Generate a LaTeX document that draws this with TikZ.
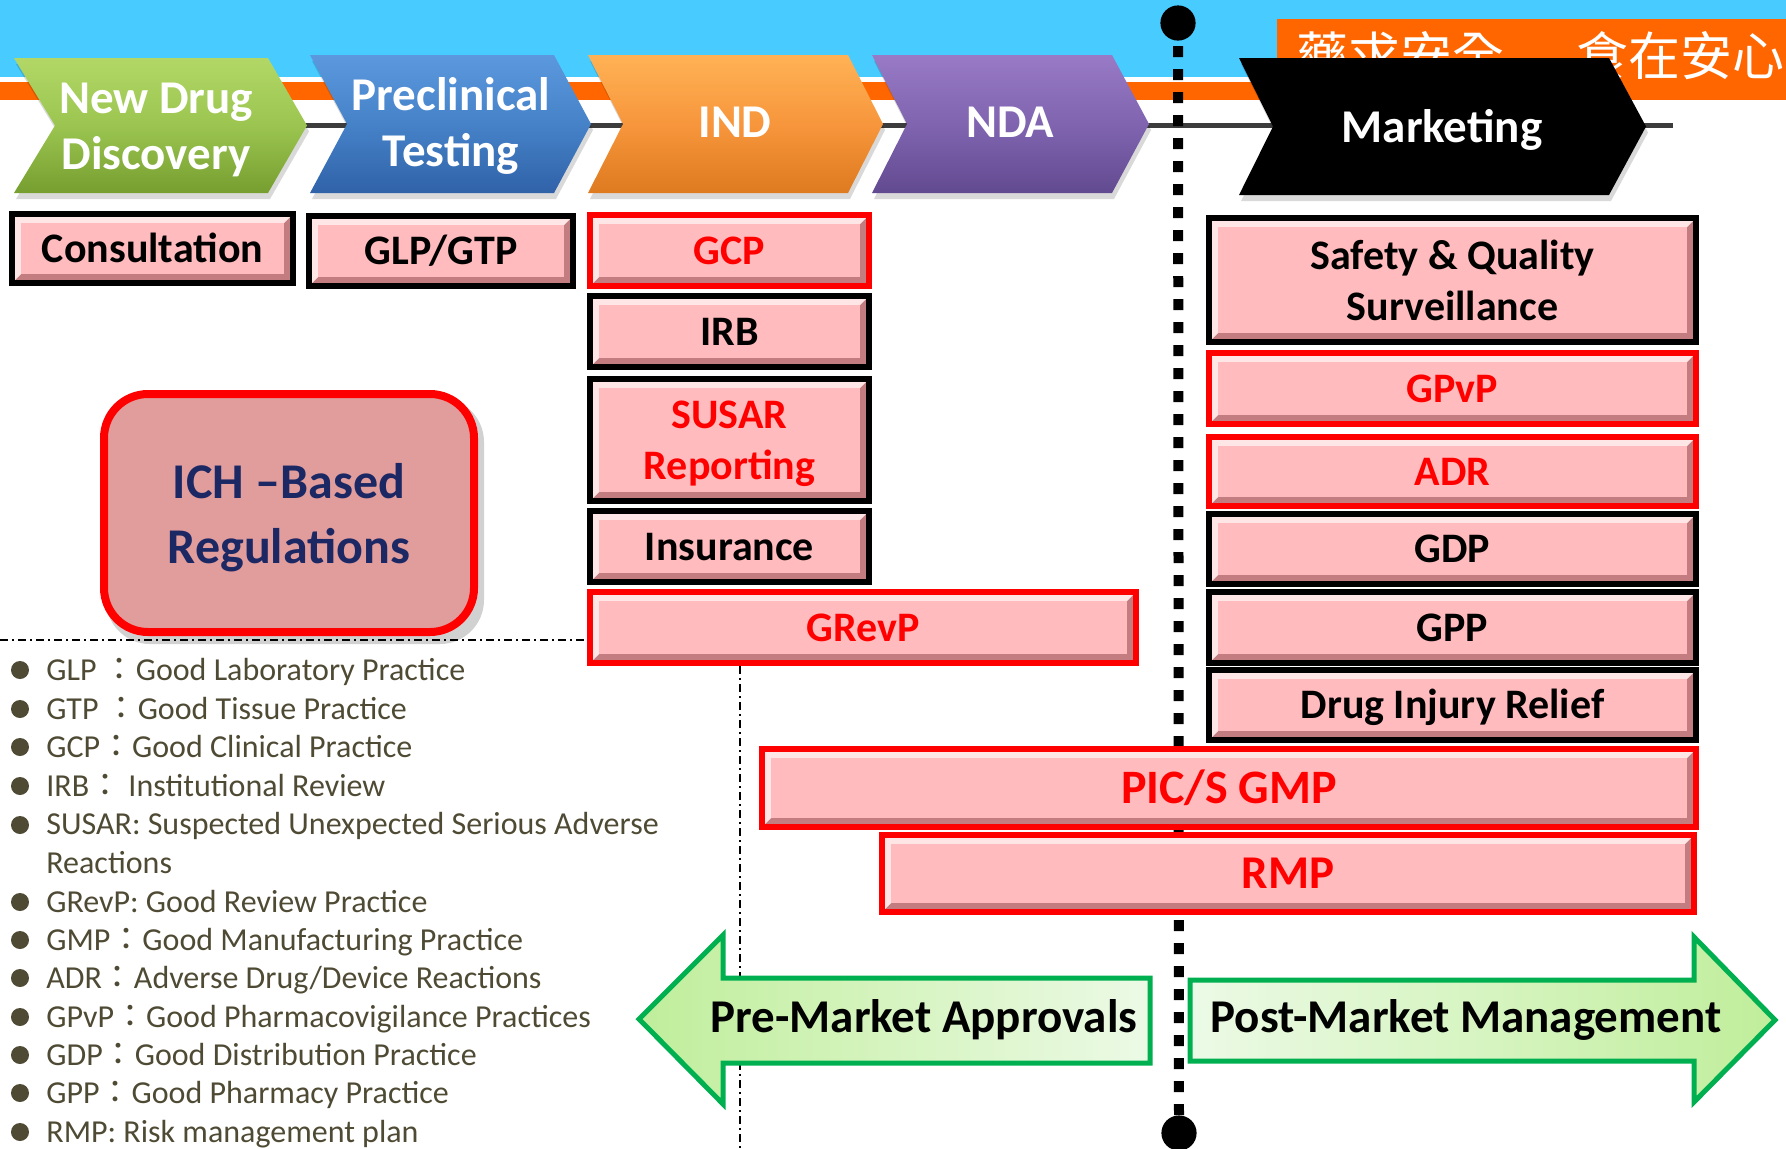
\documentclass[tikz,border=0pt]{standalone}
\usepackage{fontspec}
\setmainfont{Carlito}
\newfontfamily\cjk{Noto Sans CJK TC}
\usetikzlibrary{calc}
\definecolor{cyanbg}{RGB}{72,204,255}
\definecolor{orng}{RGB}{255,102,0}
\definecolor{tlgray}{RGB}{60,60,60}
\definecolor{boxpink}{RGB}{255,187,189}
\definecolor{bevlight}{RGB}{255,230,230}
\definecolor{bevdark}{RGB}{195,125,128}
\definecolor{ichfill}{RGB}{225,156,156}
\definecolor{navy}{RGB}{28,40,100}
\definecolor{legcol}{RGB}{78,74,52}
\definecolor{arrgreen}{RGB}{0,176,80}
\definecolor{arrlight}{RGB}{236,250,230}
\definecolor{arrdark}{RGB}{192,238,155}
\definecolor{gT}{RGB}{178,215,102}\definecolor{gM}{RGB}{155,197,80}\definecolor{gB}{RGB}{118,158,48}
\definecolor{bT}{RGB}{92,152,222}\definecolor{bM}{RGB}{70,130,200}\definecolor{bB}{RGB}{48,98,168}
\definecolor{oT}{RGB}{255,178,85}\definecolor{oM}{RGB}{247,150,60}\definecolor{oB}{RGB}{222,122,32}
\definecolor{pT}{RGB}{152,122,198}\definecolor{pM}{RGB}{128,100,176}\definecolor{pB}{RGB}{98,74,144}
\tikzset{
  chevtext/.style={text=white, font=\bfseries\fontsize{23.5pt}{28pt}\selectfont, align=center, inner sep=0pt},
  pbox/.style={draw=#1, line width=3pt, fill=boxpink, inner sep=0pt, align=center,
    font=\bfseries\fontsize{21pt}{25.5pt}\selectfont,
    path picture={
      \fill[bevdark] (path picture bounding box.south west) rectangle (path picture bounding box.north east);
      \fill[bevlight] (path picture bounding box.north west) -- (path picture bounding box.north east)
        -- ([shift={(-4.5pt,-4.5pt)}]path picture bounding box.north east)
        -- ([shift={(4.5pt,4.5pt)}]path picture bounding box.south west)
        -- (path picture bounding box.south west) -- cycle;
      \fill[boxpink] ([shift={(4.5pt,-4.5pt)}]path picture bounding box.north west) rectangle ([shift={(-4.5pt,4.5pt)}]path picture bounding box.south east);
    }},
  onel/.style={text height=13.5pt, text depth=0pt},
  twol/.style={text depth=0pt},
  redtxt/.style={text=red},
  dashdot/.style={line width=1pt, dash pattern=on 4pt off 2pt on 1pt off 2pt},
  bigdots/.style={line width=5pt, dash pattern=on 5.5pt off 6pt},
  arrowshape/.style={draw=arrgreen, line width=2.5pt, line join=miter},
  arrowtext/.style={font=\bfseries\fontsize{23.5pt}{28pt}\selectfont, inner sep=0pt, anchor=base},
  legtext/.style={text=legcol, font=\fontsize{16pt}{19.25pt}\selectfont, inner sep=0pt, anchor=base west, align=left},
  bullet/.style={circle, fill=legcol, inner sep=0pt, minimum size=9pt},
}
\newcommand\fc{{\cjk ：}}
\newcommand\chevron[7]{%
  \fill[black,opacity=0.15,shift={(2,6)}] (#1,#3) -- (#2,#3) -- ({#2+#5},{(#3+#4)/2}) -- (#2,#4) -- (#1,#4) -- ({#1+#6},{(#3+#4)/2}) -- cycle;
  \path[#7] (#1,#3) -- (#2,#3) -- ({#2+#5},{(#3+#4)/2}) -- (#2,#4) -- (#1,#4) -- ({#1+#6},{(#3+#4)/2}) -- cycle;}
\newcommand\pinkbox[8]{%
  \node[pbox=#6, #7, minimum width={(#4-#2-6)*0.5pt}, minimum height={(#5-#3-6)*0.5pt}] (#1) at ({(#2+#4)/2},{(#3+#5)/2}) {#8};}
\begin{document}
\begin{tikzpicture}[x=0.5pt,y=-0.5pt]
\useasboundingbox (0,0) rectangle (1786,1148);
% header background
\fill[cyanbg] (0,0) rectangle (1786,77);
\fill[orng] (0,82) rectangle (1786,100);
\fill[orng] (1277,19) rectangle (1786,100);
\node[anchor=west, text=white, inner sep=0pt, font=\cjk\fontsize{26pt}{26pt}\selectfont] (slogan) at (1296,56) {藥求安全\hspace{36pt}食在安心};
% timeline
\coordinate (tl0) at (55,125);
\coordinate (tl1) at (1673,125);
\draw[tlgray, line width=2.5pt] (tl0) -- (tl1);
% market divider
\coordinate (dtop) at (1178,23);
\coordinate (dbot) at (1179,1133);
\draw[bigdots] (dtop) -- (dbot);
\fill (dtop) circle[radius=8.8pt];
\fill (dbot) circle[radius=8.8pt];
% chevrons
\chevron{14}{268}{58}{193}{39}{41}{top color=gT, bottom color=gB, middle color=gM}
\chevron{310}{554}{55}{193}{37}{37}{top color=bT, bottom color=bB, middle color=bM}
\chevron{588}{848}{55}{193}{35}{35}{top color=oT, bottom color=oB, middle color=oM}
\chevron{872}{1112}{55}{193}{37}{35}{top color=pT, bottom color=pB, middle color=pM}
\chevron{1239}{1609}{58}{195}{37}{34}{fill=black}
\node[chevtext, twol] (ndd) at (156,126) {New Drug\\Discovery};
\node[chevtext, twol] (pct) at (451,122) {Preclinical\\Testing};
\node[chevtext, anchor=base] (ind) at (735,137) {IND};
\node[chevtext, anchor=base] (nda) at (1010,137) {NDA};
\node[chevtext, anchor=base] (mkt) at (1442,142) {Marketing};
% dash-dot separators
\coordinate (hd0) at (0,640);
\coordinate (hd1) at (587,640);
\coordinate (vd0) at (740,666);
\coordinate (vd1) at (740,1148);
\draw[dashdot] (hd0) -- (hd1);
\draw[dashdot] (vd0) -- (vd1);
% ICH box
\fill[black, opacity=0.18, rounded corners=22pt] (106,398) rectangle (484,644);
\node[draw=red, line width=4pt, fill=ichfill, rounded corners=22pt, minimum width=185pt, minimum height=119pt,
  text=navy, font=\bfseries\fontsize{25pt}{32.5pt}\selectfont, align=center, inner sep=0pt, text depth=0pt] (ich) at (289,513) {ICH –Based\\Regulations};
% pink boxes
\pinkbox{consult}{9}{211}{296}{286}{black}{onel}{Consultation}
\pinkbox{glp}{306}{213}{576}{289}{black}{onel}{GLP/GTP}
\pinkbox{gcp}{587}{212}{872}{289}{red}{onel,redtxt}{GCP}
\pinkbox{irb}{587}{293}{872}{370}{black}{onel}{IRB}
\pinkbox{susar}{587}{376}{872}{504}{black}{twol,redtxt}{SUSAR\\Reporting}
\pinkbox{insur}{587}{508}{872}{585}{black}{onel}{Insurance}
\pinkbox{grevp}{587}{589}{1139}{666}{red}{onel,redtxt}{GRevP}
\pinkbox{safety}{1206}{215}{1699}{345}{black}{twol}{Safety \& Quality\\Surveillance}
\pinkbox{gpvp}{1206}{350}{1699}{427}{red}{onel,redtxt}{GPvP}
\pinkbox{adr}{1206}{434}{1699}{509}{red}{onel,redtxt}{ADR}
\pinkbox{gdp}{1206}{511}{1699}{587}{black}{onel}{GDP}
\pinkbox{gpp}{1206}{589}{1699}{666}{black}{onel}{GPP}
\pinkbox{dir}{1206}{667}{1699}{743}{black}{onel}{Drug Injury Relief}
\pinkbox{pics}{759}{746}{1699}{830}{red}{redtxt,font=\bfseries\fontsize{24pt}{28pt}\selectfont,text height=15.5pt,text depth=0pt}{PIC/S GMP}
\pinkbox{rmp}{879}{832}{1697}{915}{red}{redtxt,font=\bfseries\fontsize{23.5pt}{28pt}\selectfont,text height=15pt,text depth=0pt}{RMP}
% market arrows
\path[arrowshape, left color=arrdark, right color=arrlight] (639,1019) -- (723,935) -- (723,978) -- (1150,978) -- (1150,1063) -- (723,1063) -- (723,1104) -- cycle;
\path[arrowshape, left color=arrlight, right color=arrdark] (1190,980) -- (1694,980) -- (1694,937) -- (1775,1020) -- (1694,1102) -- (1694,1061) -- (1190,1061) -- cycle;
\node[arrowtext] (pre) at (924,1032) {Pre-Market Approvals};
\node[arrowtext] (post) at (1466,1032) {Post-Market Management};
% legend
\foreach \i/\yb in {1/680,2/719,3/757,4/796,5/835,6/912,7/950,8/988,9/1027,10/1065,11/1103,12/1142}{
  \node[bullet] (b\i) at (20,\yb-10) {};
}
\node[legtext] (l1) at (46,680) {GLP \fc Good Laboratory Practice};
\node[legtext] (l2) at (46,719) {GTP \fc Good Tissue Practice};
\node[legtext] (l3) at (46,757) {GCP\fc Good Clinical Practice};
\node[legtext] (l4) at (46,796) {IRB\fc\ Institutional Review};
\node[legtext] (l5) at (46,873) {SUSAR: Suspected Unexpected Serious Adverse\\Reactions};
\node[legtext] (l6) at (46,912) {GRevP: Good Review Practice};
\node[legtext] (l7) at (46,950) {GMP\fc Good Manufacturing Practice};
\node[legtext] (l8) at (46,988) {ADR\fc Adverse Drug/Device Reactions};
\node[legtext] (l9) at (46,1027) {GPvP\fc Good Pharmacovigilance Practices};
\node[legtext] (l10) at (46,1065) {GDP\fc Good Distribution Practice};
\node[legtext] (l11) at (46,1103) {GPP\fc Good Pharmacy Practice};
\node[legtext] (l12) at (46,1142) {RMP: Risk management plan};
\end{tikzpicture}
\end{document}
